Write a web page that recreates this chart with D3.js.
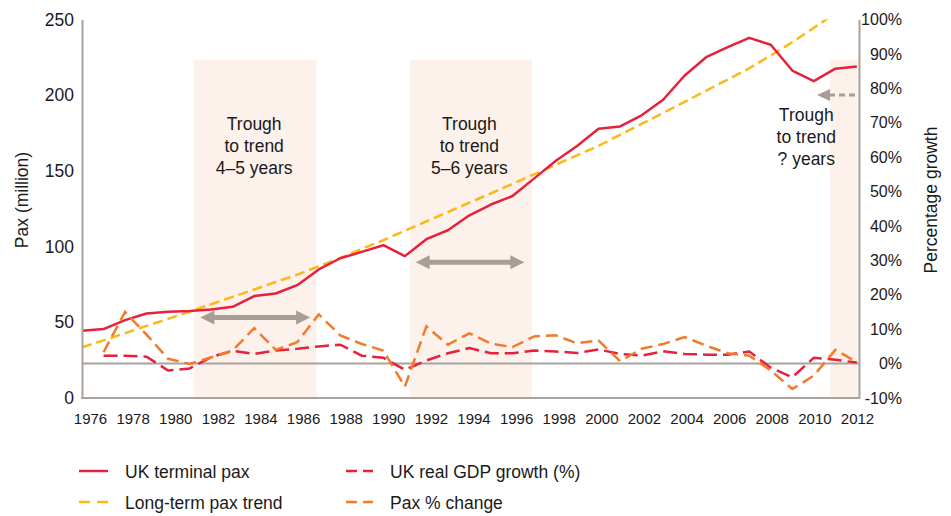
<!DOCTYPE html>
<html>
<head>
<meta charset="utf-8">
<script src="https://cdn.jsdelivr.net/npm/d3@7"></script>
<style>
  body { margin: 0; background: #fff; }
  svg { display: block; font-family: "Liberation Sans", Arial, Helvetica, sans-serif; }
</style>
</head>
<body>
<div id="chart"></div>
<script>
// data
const years = [1976, 1977, 1978, 1979, 1980, 1981, 1982, 1983, 1984, 1985, 1986, 1987,
  1988, 1989, 1990, 1991, 1992, 1993, 1994, 1995, 1996, 1997, 1998, 1999, 2000, 2001,
  2002, 2003, 2004, 2005, 2006, 2007, 2008, 2009, 2010, 2011, 2012];

// UK terminal pax (million), 1976-2012
const paxTotal = [44.4, 45.5, 51.4, 55.8, 56.9, 57.4, 58.5, 60.2, 67.3, 69.0, 74.5, 84.9,
  92.3, 96.5, 100.9, 93.7, 104.9, 110.8, 120.7, 127.8, 133.4, 144.9, 156.5, 166.4, 177.9, 179.4,
  186.7, 197.0, 213.0, 225.1, 231.7, 237.9, 233.3, 216.3, 209.3, 217.5, 219.0];

// long-term pax trend (million), 1976-2011
const paxTrend = [33.4, 38.1, 42.8, 47.6, 52.3, 57.0, 61.9, 66.8, 71.7, 76.6, 81.5, 87.0,
  92.6, 98.5, 104.2, 110.4, 116.6, 122.8, 129.0, 135.2, 141.4, 147.7, 154.0, 160.3, 166.6, 173.8,
  181.0, 188.3, 195.6, 203.0, 210.3, 217.8, 226.2, 235.0, 244.5, 254.0];

// UK real GDP growth (%), 1977-2012
const gdpGrowth = [2.3, 2.3, 2.0, -2.0, -1.4, 1.9, 3.7, 2.8, 3.8, 4.3, 5.0,
  5.5, 2.3, 1.7, -1.8, 0.9, 3.0, 4.5, 3.0, 3.0, 3.8, 3.5, 3.1, 4.1, 2.8,
  2.3, 3.6, 2.8, 2.6, 2.6, 3.5, -1.2, -4.0, 1.7, 1.1, 0.3];

// pax % change, 1977-2012
const paxChange = [3.3, 15.0, 8.4, 1.4, -0.1, 1.8, 3.8, 10.3, 4.0, 6.2, 14.3,
  8.2, 5.7, 3.8, -6.7, 10.8, 5.5, 8.8, 5.8, 4.8, 7.9, 8.2, 5.9, 6.7, 0.7,
  4.3, 5.7, 7.7, 5.2, 3.0, 2.3, -2.0, -7.4, -3.5, 4.0, 0.4];

const leftTicks = [0, 50, 100, 150, 200, 250];
const rightTicks = [-10, 0, 10, 20, 30, 40, 50, 60, 70, 80, 90, 100];
const yearTicks = [1976, 1978, 1980, 1982, 1984, 1986, 1988, 1990, 1992, 1994, 1996, 1998,
  2000, 2002, 2004, 2006, 2008, 2010, 2012];

// trough-to-trend periods (start year, end year)
const bands = [[1981.2, 1986.9], [1991.25, 1996.9], [2010.75, 2012.1]];
const bandLabels = [["Trough", "to trend", "4\u20135 years"], ["Trough", "to trend", "5\u20136 years"], ["Trough", "to trend", "? years"]];

const width = 951, height = 516;
const colors = { pax: "#e6213d", trend: "#fcb813", gdp: "#e6213d", change: "#f37a28",
  axis: "#aaa29b", band: "#fdf1eb", arrow: "#a89e96" };

const x = d3.scaleLinear().domain([1976, 2012.1]).range([82, 859]);
const xLab = d3.scaleLinear().domain([1976, 2012]).range([90, 857]);
const yL = d3.scaleLinear().domain([0, 250]).range([398, 19.5]);
const yR = d3.scaleLinear().domain([-10, 100]).range([398, 19.5]);

const svg = d3.select("#chart").append("svg")
  .attr("width", width).attr("height", height);

svg.append("defs").append("clipPath").attr("id", "plot")
  .append("rect")
  .attr("x", x(1976)).attr("y", yL(250))
  .attr("width", x(2012.1) - x(1976)).attr("height", yL(0) - yL(250));

// shaded bands
svg.append("g").selectAll("rect").data(bands).enter().append("rect")
  .attr("x", (d) => x(d[0]))
  .attr("width", (d) => x(d[1]) - x(d[0]))
  .attr("y", yL(223.5))
  .attr("height", yL(0) - yL(223.5))
  .attr("fill", colors.band);

// zero growth line
svg.append("line")
  .attr("x1", x(1976)).attr("x2", x(2012.1))
  .attr("y1", yR(0)).attr("y2", yR(0))
  .attr("stroke", colors.axis).attr("stroke-width", 2);

const lines = svg.append("g").attr("clip-path", "url(#plot)");

const lineL = d3.line().x((d) => x(d[0])).y((d) => yL(d[1]));
const lineR = d3.line().x((d) => x(d[0])).y((d) => yR(d[1]));

lines.append("path")
  .datum(paxTrend.map((v, i) => [years[i], v]))
  .attr("d", lineL).attr("fill", "none")
  .attr("stroke", colors.trend).attr("stroke-width", 2.5)
  .attr("stroke-dasharray", "10,5");

lines.append("path")
  .datum(paxTotal.map((v, i) => [years[i], v]))
  .attr("d", lineL).attr("fill", "none")
  .attr("stroke", colors.pax).attr("stroke-width", 2.5)
  .attr("stroke-linejoin", "round");

lines.append("path")
  .datum(gdpGrowth.map((v, i) => [years[i + 1], v]))
  .attr("d", lineR).attr("fill", "none")
  .attr("stroke", colors.gdp).attr("stroke-width", 2.5)
  .attr("stroke-dasharray", "14,6");

lines.append("path")
  .datum(paxChange.map((v, i) => [years[i + 1], v]))
  .attr("d", lineR).attr("fill", "none")
  .attr("stroke", colors.change).attr("stroke-width", 2.5)
  .attr("stroke-dasharray", "12,6");

// arrows
function arrowHead(tipX, y, dir, len, half) {
  return `M${tipX},${y} L${tipX + dir * len},${y - half} L${tipX + dir * len},${y + half} Z`;
}
const arrows = [
  { x0: 1981.5, x1: 1986.6, y: 53.1 },
  { x0: 1991.5, x1: 1996.55, y: 89.7 },
];
arrows.forEach((a) => {
  const ax0 = x(a.x0), ax1 = x(a.x1), ay = yL(a.y);
  svg.append("line")
    .attr("x1", ax0 + 10).attr("x2", ax1 - 10)
    .attr("y1", ay).attr("y2", ay)
    .attr("stroke", colors.arrow).attr("stroke-width", 5);
  svg.append("path").attr("d", arrowHead(ax0, ay, 1, 14, 7)).attr("fill", colors.arrow);
  svg.append("path").attr("d", arrowHead(ax1, ay, -1, 14, 7)).attr("fill", colors.arrow);
});
// open-ended arrow for the last trough
const a3y = yL(200.2);
svg.append("line")
  .attr("x1", x(2010.15) + 12).attr("x2", x(2012.1))
  .attr("y1", a3y).attr("y2", a3y)
  .attr("stroke", colors.arrow).attr("stroke-width", 3)
  .attr("stroke-dasharray", "6,4");
svg.append("path").attr("d", arrowHead(x(2010.15), a3y, 1, 13, 6)).attr("fill", colors.arrow);

// band labels
const labelPos = [{ x: 1984, y: 177.2 }, { x: 1994, y: 177.2 }, { x: 2009.65, y: 182.8 }];
bandLabels.forEach((lbl, i) => {
  const t = svg.append("text")
    .attr("text-anchor", "middle")
    .attr("font-size", "17.5px")
    .attr("fill", "#1a1a1a");
  lbl.forEach((s, j) => {
    t.append("tspan")
      .attr("x", x(labelPos[i].x))
      .attr("y", yL(labelPos[i].y) + j * 22)
      .text(s);
  });
});

// axes
const axisLeft = svg.append("g")
  .attr("transform", `translate(${x(1976)},0)`)
  .call(d3.axisLeft(yL).tickValues(leftTicks).tickSize(0).tickPadding(8));
const axisRight = svg.append("g")
  .attr("transform", `translate(${x(2012.1)},0)`)
  .call(d3.axisRight(yR).tickValues(rightTicks).tickSize(0).tickPadding(0)
    .tickFormat((d) => d + "%"));
axisRight.selectAll("text").attr("text-anchor", "end").attr("x", 43).attr("font-size", "16px");
axisLeft.selectAll("text").attr("font-size", "17.5px");
[axisLeft, axisRight].forEach((g) => {
  g.select(".domain").attr("stroke", colors.axis).attr("stroke-width", 2);
  g.selectAll("text").attr("fill", "#1a1a1a").attr("font-family", null);
});

svg.append("line")
  .attr("x1", x(1976) - 1).attr("x2", x(2012.1) + 1)
  .attr("y1", yL(0)).attr("y2", yL(0))
  .attr("stroke", colors.axis).attr("stroke-width", 2);

const axisBottom = svg.append("g")
  .attr("transform", `translate(0,${yL(0)})`)
  .call(d3.axisBottom(xLab).tickValues(yearTicks).tickSize(0).tickPadding(15)
    .tickFormat(d3.format("d")));
axisBottom.select(".domain").remove();
axisBottom.selectAll("text").attr("font-size", "15px").attr("fill", "#1a1a1a").attr("font-family", null);

// axis titles
svg.append("text")
  .attr("transform", "translate(28,200) rotate(-90)")
  .attr("text-anchor", "middle").attr("font-size", "17.5px").attr("fill", "#1a1a1a")
  .text("Pax (million)");
svg.append("text")
  .attr("transform", "translate(937,200) rotate(-90)")
  .attr("text-anchor", "middle").attr("font-size", "17.5px").attr("fill", "#1a1a1a")
  .text("Percentage growth");

// legend
const legendItems = [
  { name: "UK terminal pax", color: colors.pax, dash: null, lx: 79, ly: 471 },
  { name: "UK real GDP growth (%)", color: colors.gdp, dash: "11,6", lx: 346, ly: 471 },
  { name: "Long-term pax trend", color: colors.trend, dash: "11,7", lx: 79, ly: 502 },
  { name: "Pax % change", color: colors.change, dash: "11,6", lx: 346, ly: 502 },
];
const legend = svg.append("g").selectAll("g").data(legendItems).enter().append("g")
  .attr("transform", (d) => `translate(${d.lx},${d.ly})`);
legend.append("line")
  .attr("x1", 0).attr("x2", (d) => (d.lx < 200 ? 29 : 27))
  .attr("stroke", (d) => d.color).attr("stroke-width", 2.5)
  .attr("stroke-dasharray", (d) => d.dash);
legend.append("text")
  .attr("x", (d) => (d.lx < 200 ? 46 : 44))
  .attr("y", 6.5)
  .attr("font-size", "17.5px").attr("fill", "#1a1a1a")
  .text((d) => d.name);
</script>
</body>
</html>
